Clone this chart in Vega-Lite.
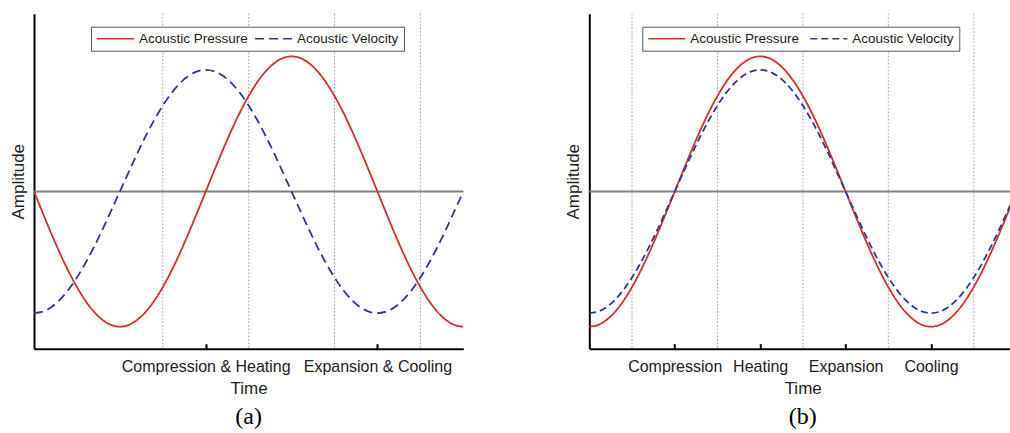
{
"$schema": "https://vega.github.io/schema/vega-lite/v6.json",
"background": "white",
"padding": {"left": 9, "top": 12.7, "right": 0, "bottom": 0},
"bounds": "flush",
"spacing": 125.3,
"resolve": {"scale": {"x": "independent", "y": "independent", "color": "independent", "strokeDash": "independent"}, "legend": {"color": "independent", "strokeDash": "independent"}},
"hconcat": [
{
"width": 429.3, "height": 335,
"title": {"text": "(a)", "orient": "bottom", "frame": "group", "font": "Liberation Serif", "fontSize": 24, "fontWeight": "normal", "color": "black", "offset": 8},
"layer": [
{"data": {"values": [{"t": 0.375}, {"t": 0.625}, {"t": 0.875}, {"t": 1.125}]},
 "mark": {"type": "rule", "color": "#999999", "strokeWidth": 1, "strokeDash": [1.5, 2]},
 "encoding": {"x": {"field": "t", "type": "quantitative"}}},
{"data": {"values": [{}]},
 "mark": {"type": "rule", "color": "#808080", "strokeWidth": 2},
 "encoding": {"y": {"datum": 0}}},
{"data": {"values": [
{"t":0,"s":"P","y":0},{"t":0.025,"s":"P","y":-0.156},{"t":0.05,"s":"P","y":-0.309},{"t":0.075,"s":"P","y":-0.454},{"t":0.1,"s":"P","y":-0.588},{"t":0.125,"s":"P","y":-0.707},{"t":0.15,"s":"P","y":-0.809},{"t":0.175,"s":"P","y":-0.891},{"t":0.2,"s":"P","y":-0.951},{"t":0.225,"s":"P","y":-0.988},{"t":0.25,"s":"P","y":-1},{"t":0.275,"s":"P","y":-0.988},{"t":0.3,"s":"P","y":-0.951},{"t":0.325,"s":"P","y":-0.891},{"t":0.35,"s":"P","y":-0.809},{"t":0.375,"s":"P","y":-0.707},{"t":0.4,"s":"P","y":-0.588},{"t":0.425,"s":"P","y":-0.454},{"t":0.45,"s":"P","y":-0.309},{"t":0.475,"s":"P","y":-0.156},{"t":0.5,"s":"P","y":0},{"t":0.525,"s":"P","y":0.156},{"t":0.55,"s":"P","y":0.309},{"t":0.575,"s":"P","y":0.454},{"t":0.6,"s":"P","y":0.588},{"t":0.625,"s":"P","y":0.707},{"t":0.65,"s":"P","y":0.809},{"t":0.675,"s":"P","y":0.891},{"t":0.7,"s":"P","y":0.951},{"t":0.725,"s":"P","y":0.988},{"t":0.75,"s":"P","y":1},{"t":0.775,"s":"P","y":0.988},{"t":0.8,"s":"P","y":0.951},{"t":0.825,"s":"P","y":0.891},{"t":0.85,"s":"P","y":0.809},{"t":0.875,"s":"P","y":0.707},{"t":0.9,"s":"P","y":0.588},{"t":0.925,"s":"P","y":0.454},{"t":0.95,"s":"P","y":0.309},{"t":0.975,"s":"P","y":0.156},{"t":1,"s":"P","y":0},{"t":1.025,"s":"P","y":-0.156},{"t":1.05,"s":"P","y":-0.309},{"t":1.075,"s":"P","y":-0.454},{"t":1.1,"s":"P","y":-0.588},{"t":1.125,"s":"P","y":-0.707},{"t":1.15,"s":"P","y":-0.809},{"t":1.175,"s":"P","y":-0.891},{"t":1.2,"s":"P","y":-0.951},{"t":1.225,"s":"P","y":-0.988},{"t":1.25,"s":"P","y":-1},
{"t":0,"s":"V","y":-0.9},{"t":0.025,"s":"V","y":-0.889},{"t":0.05,"s":"V","y":-0.856},{"t":0.075,"s":"V","y":-0.802},{"t":0.1,"s":"V","y":-0.728},{"t":0.125,"s":"V","y":-0.636},{"t":0.15,"s":"V","y":-0.529},{"t":0.175,"s":"V","y":-0.409},{"t":0.2,"s":"V","y":-0.278},{"t":0.225,"s":"V","y":-0.14},{"t":0.25,"s":"V","y":0},{"t":0.275,"s":"V","y":0.14},{"t":0.3,"s":"V","y":0.278},{"t":0.325,"s":"V","y":0.409},{"t":0.35,"s":"V","y":0.529},{"t":0.375,"s":"V","y":0.636},{"t":0.4,"s":"V","y":0.728},{"t":0.425,"s":"V","y":0.802},{"t":0.45,"s":"V","y":0.856},{"t":0.475,"s":"V","y":0.889},{"t":0.5,"s":"V","y":0.9},{"t":0.525,"s":"V","y":0.889},{"t":0.55,"s":"V","y":0.856},{"t":0.575,"s":"V","y":0.802},{"t":0.6,"s":"V","y":0.728},{"t":0.625,"s":"V","y":0.636},{"t":0.65,"s":"V","y":0.529},{"t":0.675,"s":"V","y":0.409},{"t":0.7,"s":"V","y":0.278},{"t":0.725,"s":"V","y":0.14},{"t":0.75,"s":"V","y":0},{"t":0.775,"s":"V","y":-0.14},{"t":0.8,"s":"V","y":-0.278},{"t":0.825,"s":"V","y":-0.409},{"t":0.85,"s":"V","y":-0.529},{"t":0.875,"s":"V","y":-0.636},{"t":0.9,"s":"V","y":-0.728},{"t":0.925,"s":"V","y":-0.802},{"t":0.95,"s":"V","y":-0.856},{"t":0.975,"s":"V","y":-0.889},{"t":1,"s":"V","y":-0.9},{"t":1.025,"s":"V","y":-0.889},{"t":1.05,"s":"V","y":-0.856},{"t":1.075,"s":"V","y":-0.802},{"t":1.1,"s":"V","y":-0.728},{"t":1.125,"s":"V","y":-0.636},{"t":1.15,"s":"V","y":-0.529},{"t":1.175,"s":"V","y":-0.409},{"t":1.2,"s":"V","y":-0.278},{"t":1.225,"s":"V","y":-0.14},{"t":1.25,"s":"V","y":0}
]},
 "mark": {"type": "line", "interpolate": "monotone", "clip": true, "strokeWidth": 1.8},
 "encoding": {
  "x": {"field": "t", "type": "quantitative", "scale": {"domain": [0, 1.25], "nice": false, "zero": false},
        "axis": {"values": [0.5, 1], "title": "Time", "labelExpr": "datum.value == 0.5 ? 'Compression & Heating' : 'Expansion & Cooling'"}},
  "y": {"field": "y", "type": "quantitative", "scale": {"domain": [-1.163, 1.316], "nice": false, "zero": false},
        "axis": {"title": "Amplitude"}},
  "color": {"field": "s", "type": "nominal", "scale": {"domain": ["P", "V"], "range": ["#d0302f", "#2f3b8f"]},
   "legend": {"orient": "none", "legendX": 57, "legendY": 13, "direction": "horizontal", "title": null, "symbolType": "stroke", "symbolSize": 1369, "symbolStrokeWidth": 1.5, "clipHeight": 14, "labelFontSize": 13.5, "labelOffset": 4, "columnPadding": 6, "padding": 5, "strokeColor": "#555555", "fillColor": "white", "labelExpr": "datum.label == 'P' ? 'Acoustic Pressure' : 'Acoustic Velocity'"}},
  "strokeDash": {"field": "s", "type": "nominal", "scale": {"domain": ["P", "V"], "range": [[1, 0], [9, 5]]},
   "legend": {"orient": "none", "legendX": 57, "legendY": 13, "direction": "horizontal", "title": null, "symbolType": "stroke", "symbolSize": 1369, "symbolStrokeWidth": 1.5, "clipHeight": 14, "labelFontSize": 13.5, "labelOffset": 4, "columnPadding": 6, "padding": 5, "strokeColor": "#555555", "fillColor": "white", "labelExpr": "datum.label == 'P' ? 'Acoustic Pressure' : 'Acoustic Velocity'"}}
 }}
]
},
{
"width": 421.7, "height": 335,
"title": {"text": "(b)", "orient": "bottom", "frame": "group", "font": "Liberation Serif", "fontSize": 24, "fontWeight": "normal", "color": "black", "offset": 8, "dx": 2.7},
"layer": [
{"data": {"values": [{"t": 0.125}, {"t": 0.375}, {"t": 0.625}, {"t": 0.875}, {"t": 1.125}]},
 "mark": {"type": "rule", "color": "#999999", "strokeWidth": 1, "strokeDash": [1.5, 2]},
 "encoding": {"x": {"field": "t", "type": "quantitative"}}},
{"data": {"values": [{}]},
 "mark": {"type": "rule", "color": "#808080", "strokeWidth": 2},
 "encoding": {"y": {"datum": 0}}},
{"data": {"values": [
{"t":0,"s":"P","y":-1},{"t":0.025,"s":"P","y":-0.988},{"t":0.05,"s":"P","y":-0.951},{"t":0.075,"s":"P","y":-0.891},{"t":0.1,"s":"P","y":-0.809},{"t":0.125,"s":"P","y":-0.707},{"t":0.15,"s":"P","y":-0.588},{"t":0.175,"s":"P","y":-0.454},{"t":0.2,"s":"P","y":-0.309},{"t":0.225,"s":"P","y":-0.156},{"t":0.25,"s":"P","y":0},{"t":0.275,"s":"P","y":0.156},{"t":0.3,"s":"P","y":0.309},{"t":0.325,"s":"P","y":0.454},{"t":0.35,"s":"P","y":0.588},{"t":0.375,"s":"P","y":0.707},{"t":0.4,"s":"P","y":0.809},{"t":0.425,"s":"P","y":0.891},{"t":0.45,"s":"P","y":0.951},{"t":0.475,"s":"P","y":0.988},{"t":0.5,"s":"P","y":1},{"t":0.525,"s":"P","y":0.988},{"t":0.55,"s":"P","y":0.951},{"t":0.575,"s":"P","y":0.891},{"t":0.6,"s":"P","y":0.809},{"t":0.625,"s":"P","y":0.707},{"t":0.65,"s":"P","y":0.588},{"t":0.675,"s":"P","y":0.454},{"t":0.7,"s":"P","y":0.309},{"t":0.725,"s":"P","y":0.156},{"t":0.75,"s":"P","y":0},{"t":0.775,"s":"P","y":-0.156},{"t":0.8,"s":"P","y":-0.309},{"t":0.825,"s":"P","y":-0.454},{"t":0.85,"s":"P","y":-0.588},{"t":0.875,"s":"P","y":-0.707},{"t":0.9,"s":"P","y":-0.809},{"t":0.925,"s":"P","y":-0.891},{"t":0.95,"s":"P","y":-0.951},{"t":0.975,"s":"P","y":-0.988},{"t":1,"s":"P","y":-1},{"t":1.025,"s":"P","y":-0.988},{"t":1.05,"s":"P","y":-0.951},{"t":1.075,"s":"P","y":-0.891},{"t":1.1,"s":"P","y":-0.809},{"t":1.125,"s":"P","y":-0.707},{"t":1.15,"s":"P","y":-0.588},{"t":1.175,"s":"P","y":-0.454},{"t":1.2,"s":"P","y":-0.309},{"t":1.225,"s":"P","y":-0.156},{"t":1.25,"s":"P","y":0},
{"t":0,"s":"V","y":-0.9},{"t":0.025,"s":"V","y":-0.889},{"t":0.05,"s":"V","y":-0.856},{"t":0.075,"s":"V","y":-0.802},{"t":0.1,"s":"V","y":-0.728},{"t":0.125,"s":"V","y":-0.636},{"t":0.15,"s":"V","y":-0.529},{"t":0.175,"s":"V","y":-0.409},{"t":0.2,"s":"V","y":-0.278},{"t":0.225,"s":"V","y":-0.14},{"t":0.25,"s":"V","y":0},{"t":0.275,"s":"V","y":0.14},{"t":0.3,"s":"V","y":0.278},{"t":0.325,"s":"V","y":0.409},{"t":0.35,"s":"V","y":0.529},{"t":0.375,"s":"V","y":0.636},{"t":0.4,"s":"V","y":0.728},{"t":0.425,"s":"V","y":0.802},{"t":0.45,"s":"V","y":0.856},{"t":0.475,"s":"V","y":0.889},{"t":0.5,"s":"V","y":0.9},{"t":0.525,"s":"V","y":0.889},{"t":0.55,"s":"V","y":0.856},{"t":0.575,"s":"V","y":0.802},{"t":0.6,"s":"V","y":0.728},{"t":0.625,"s":"V","y":0.636},{"t":0.65,"s":"V","y":0.529},{"t":0.675,"s":"V","y":0.409},{"t":0.7,"s":"V","y":0.278},{"t":0.725,"s":"V","y":0.14},{"t":0.75,"s":"V","y":0},{"t":0.775,"s":"V","y":-0.14},{"t":0.8,"s":"V","y":-0.278},{"t":0.825,"s":"V","y":-0.409},{"t":0.85,"s":"V","y":-0.529},{"t":0.875,"s":"V","y":-0.636},{"t":0.9,"s":"V","y":-0.728},{"t":0.925,"s":"V","y":-0.802},{"t":0.95,"s":"V","y":-0.856},{"t":0.975,"s":"V","y":-0.889},{"t":1,"s":"V","y":-0.9},{"t":1.025,"s":"V","y":-0.889},{"t":1.05,"s":"V","y":-0.856},{"t":1.075,"s":"V","y":-0.802},{"t":1.1,"s":"V","y":-0.728},{"t":1.125,"s":"V","y":-0.636},{"t":1.15,"s":"V","y":-0.529},{"t":1.175,"s":"V","y":-0.409},{"t":1.2,"s":"V","y":-0.278},{"t":1.225,"s":"V","y":-0.14},{"t":1.25,"s":"V","y":0}
]},
 "mark": {"type": "line", "interpolate": "monotone", "clip": true, "strokeWidth": 1.8},
 "encoding": {
  "x": {"field": "t", "type": "quantitative", "scale": {"domain": [0, 1.234], "nice": false, "zero": false},
        "axis": {"values": [0.25, 0.5, 0.75, 1], "title": "Time", "titleX": 213.4, "labelExpr": "datum.value == 0.25 ? 'Compression' : datum.value == 0.5 ? 'Heating' : datum.value == 0.75 ? 'Expansion' : 'Cooling'"}},
  "y": {"field": "y", "type": "quantitative", "scale": {"domain": [-1.163, 1.316], "nice": false, "zero": false},
        "axis": {"title": "Amplitude"}},
  "color": {"field": "s", "type": "nominal", "scale": {"domain": ["P", "V"], "range": ["#d0302f", "#2f3b8f"]},
   "legend": {"orient": "none", "legendX": 53, "legendY": 13, "direction": "horizontal", "title": null, "symbolType": "stroke", "symbolSize": 1369, "symbolStrokeWidth": 1.5, "clipHeight": 14, "labelFontSize": 13.5, "labelOffset": 4, "columnPadding": 10, "padding": 5, "strokeColor": "#555555", "fillColor": "white", "labelExpr": "datum.label == 'P' ? 'Acoustic Pressure' : 'Acoustic Velocity'"}},
  "strokeDash": {"field": "s", "type": "nominal", "scale": {"domain": ["P", "V"], "range": [[1, 0], [7, 4]]},
   "legend": {"orient": "none", "legendX": 53, "legendY": 13, "direction": "horizontal", "title": null, "symbolType": "stroke", "symbolSize": 1369, "symbolStrokeWidth": 1.5, "clipHeight": 14, "labelFontSize": 13.5, "labelOffset": 4, "columnPadding": 10, "padding": 5, "strokeColor": "#555555", "fillColor": "white", "labelExpr": "datum.label == 'P' ? 'Acoustic Pressure' : 'Acoustic Velocity'"}}
 }}
]
}
],
"config": {
 "view": {"stroke": null},
 "font": "Liberation Sans",
 "axis": {"domainColor": "black", "domainWidth": 2, "labelFont": "Liberation Sans", "labelFontSize": 16, "labelColor": "#222222", "titleFont": "Liberation Sans", "titleFontSize": 17, "titleFontWeight": "normal", "titleColor": "#222222", "grid": false},
 "axisY": {"ticks": false, "labels": false, "titlePadding": 7},
 "axisX": {"tickColor": "black", "tickWidth": 2, "tickSize": -5, "labelPadding": 15, "titlePadding": 6, "labelOverlap": false},
 "legend": {"labelFont": "Liberation Sans", "labelColor": "#222222"}
}
}
